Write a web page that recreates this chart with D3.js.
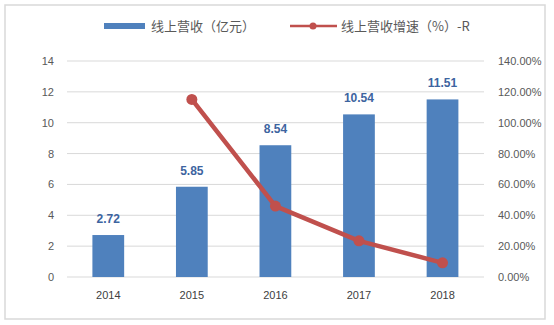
<!DOCTYPE html>
<html><head><meta charset="utf-8">
<script src="https://cdn.jsdelivr.net/npm/d3@7"></script>
<style>body{margin:0;background:#fff;} svg{display:block;font-family:Calibri,Carlito,"Liberation Sans","Noto Sans CJK SC",sans-serif;}</style>
</head><body>
<script>
const categories = ["2014","2015","2016","2017","2018"];
const revenue = [2.72, 5.85, 8.54, 10.54, 11.51];
const growth = [null, 115.07, 45.98, 23.42, 9.20];
const leftTicks = [0,2,4,6,8,10,12,14];
const rightTicks = [0,20,40,60,80,100,120,140];
const legendLabels = ["线上营收（亿元）", "线上营收增速（%）-R"];

const W = 554, H = 325;
const svg = d3.select("body").append("svg").attr("width", W).attr("height", H);
svg.append("rect").attr("x",5).attr("y",5).attr("width",540).attr("height",314)
  .attr("fill","#fff").attr("stroke","#d9d9d9").attr("stroke-width",1.5);

const x = d3.scaleBand().domain(categories).range([66.5, 484.3]).paddingInner(0.62).paddingOuter(0.31);
const yL = d3.scaleLinear().domain([0,14]).range([277, 61]);
const yR = d3.scaleLinear().domain([0,140]).range([277, 61]);

// gridlines
svg.append("g").selectAll("line").data(leftTicks).join("line")
  .attr("x1",67).attr("x2",484).attr("y1",d=>yL(d)).attr("y2",d=>yL(d))
  .attr("stroke","#d9d9d9").attr("stroke-width",1);

// left axis
const ga = svg.append("g").attr("transform","translate(67,0)")
  .call(d3.axisLeft(yL).tickValues(leftTicks).tickSize(0).tickPadding(13));
ga.select(".domain").remove();
ga.selectAll("text").attr("fill","#595959").style("font-size","11px").style("font-family","'Liberation Sans',sans-serif");

// right axis
const gr = svg.append("g").attr("transform","translate(498,0)")
  .call(d3.axisRight(yR).tickValues(rightTicks).tickSize(0).tickPadding(0).tickFormat(d=>d.toFixed(2)+"%"));
gr.select(".domain").remove();
gr.selectAll("text").attr("fill","#595959").style("font-size","11px").style("font-family","'Liberation Sans',sans-serif");

// x axis
const gx = svg.append("g").attr("transform","translate(0,277)")
  .call(d3.axisBottom(x).tickSize(0).tickPadding(14));
gx.select(".domain").remove();
gx.selectAll("text").attr("fill","#404040").style("font-size","11px").style("font-family","'Liberation Sans',sans-serif");

// bars
svg.append("g").selectAll("rect").data(revenue).join("rect")
  .attr("x",(d,i)=>x(categories[i])).attr("width",x.bandwidth())
  .attr("y",d=>yL(d)).attr("height",d=>yL(0)-yL(d)).attr("fill","#4f81bd");

// bar labels
svg.append("g").selectAll("text").data(revenue).join("text")
  .attr("x",(d,i)=>x(categories[i])+x.bandwidth()/2).attr("y",d=>yL(d)-12)
  .attr("text-anchor","middle").attr("fill","#3d64a0").attr("font-weight","bold")
  .style("font-size","12px").style("font-family","'Liberation Sans',sans-serif")
  .text(d=>d.toFixed(2));

// line
const pts = growth.map((g,i)=>({g, c:categories[i]})).filter(d=>d.g!==null);
const line = d3.line().x(d=>x(d.c)+x.bandwidth()/2).y(d=>yR(d.g));
svg.append("path").datum(pts).attr("d",line).attr("fill","none")
  .attr("stroke","#c0504d").attr("stroke-width",4.5).attr("stroke-linejoin","round");
svg.append("g").selectAll("circle").data(pts).join("circle")
  .attr("cx",d=>x(d.c)+x.bandwidth()/2).attr("cy",d=>yR(d.g)).attr("r",5.5).attr("fill","#c0504d");

// legend
const lg = svg.append("g");
lg.append("rect").attr("x",104).attr("y",23).attr("width",41).attr("height",6).attr("fill","#4f81bd");
lg.append("text").attr("x",151).attr("y",31).text(legendLabels[0])
  .attr("fill","#595959").style("font-size","13px").style("font-family","'Noto Sans CJK SC',sans-serif");
lg.append("line").attr("x1",290).attr("x2",337).attr("y1",26).attr("y2",26).attr("stroke","#c0504d").attr("stroke-width",2.5);
lg.append("circle").attr("cx",313).attr("cy",26).attr("r",3.5).attr("fill","#c0504d");
lg.append("text").attr("x",341).attr("y",31).text(legendLabels[1])
  .attr("fill","#595959").style("font-size","13px").style("font-family","'Noto Sans CJK SC',sans-serif");
</script>
</body></html>
